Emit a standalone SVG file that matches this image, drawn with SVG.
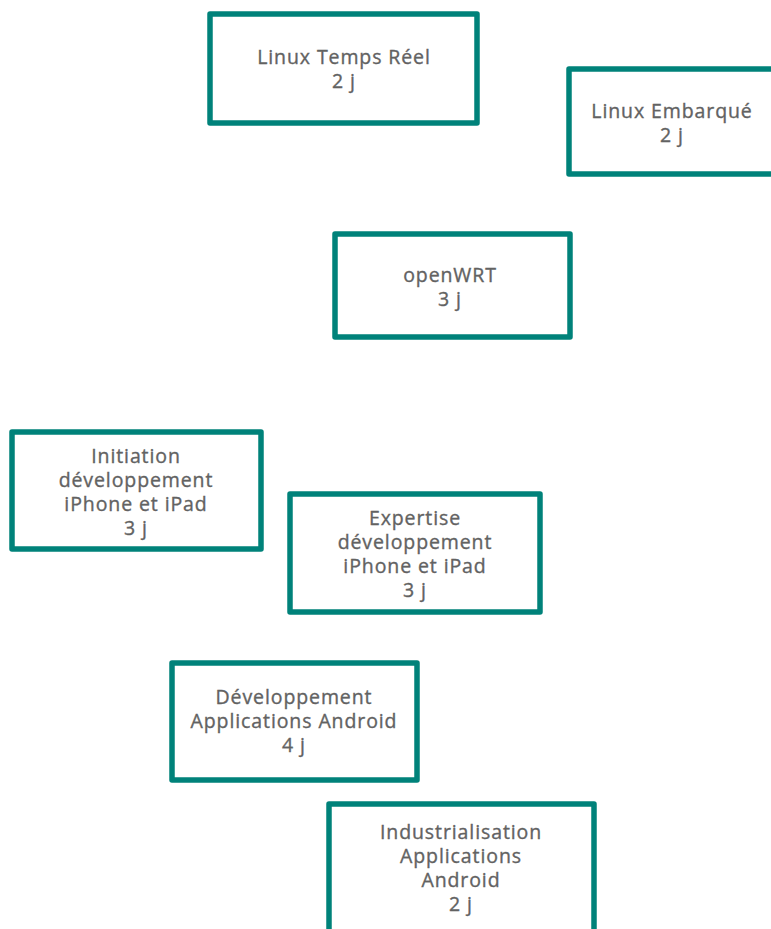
<svg xmlns="http://www.w3.org/2000/svg" width="771" height="929" viewBox="0 0 771 929">
<style>
.box{fill:#fff;stroke:#00827a;stroke-width:5.5;stroke-linejoin:round}
.t{font-family:"Open Sans","Noto Sans",sans-serif;font-size:19.5px;letter-spacing:0.9px;fill:#626262;stroke:#626262;stroke-width:0.35px;text-anchor:middle}
</style>
<rect width="771" height="929" fill="#fff"/>
<g id="connectors"></g>
<g id="n1"><rect class="box" x="210" y="14" width="267" height="109"/>
<text class="t" x="344" y="64">Linux Temps Réel</text><text class="t" x="344" y="88">2 j</text></g>
<g id="n2"><rect class="box" x="569" y="69" width="230" height="105"/>
<text class="t" x="672" y="118">Linux Embarqué</text><text class="t" x="672" y="142">2 j</text></g>
<g id="n3"><rect class="box" x="335" y="234" width="235" height="103"/>
<text class="t" x="450" y="282">openWRT</text><text class="t" x="450" y="306">3 j</text></g>
<g id="n4"><rect class="box" x="12" y="432" width="249" height="117"/>
<text class="t" x="136" y="463">Initiation</text><text class="t" x="136" y="487">développement</text><text class="t" x="136" y="511">iPhone et iPad</text><text class="t" x="136" y="535">3 j</text></g>
<g id="n5"><rect class="box" x="290" y="494" width="250" height="118"/>
<text class="t" x="415" y="525">Expertise</text><text class="t" x="415" y="549">développement</text><text class="t" x="415" y="573">iPhone et iPad</text><text class="t" x="415" y="597">3 j</text></g>
<g id="n6"><rect class="box" x="172" y="663" width="245" height="117"/>
<text class="t" x="294" y="704">Développement</text><text class="t" x="294" y="728">Applications Android</text><text class="t" x="294" y="752">4 j</text></g>
<g id="n7"><rect class="box" x="329" y="804" width="265" height="140"/>
<text class="t" x="461" y="839">Industrialisation</text><text class="t" x="461" y="863">Applications</text><text class="t" x="461" y="887">Android</text><text class="t" x="461" y="911">2 j</text></g>
</svg>
